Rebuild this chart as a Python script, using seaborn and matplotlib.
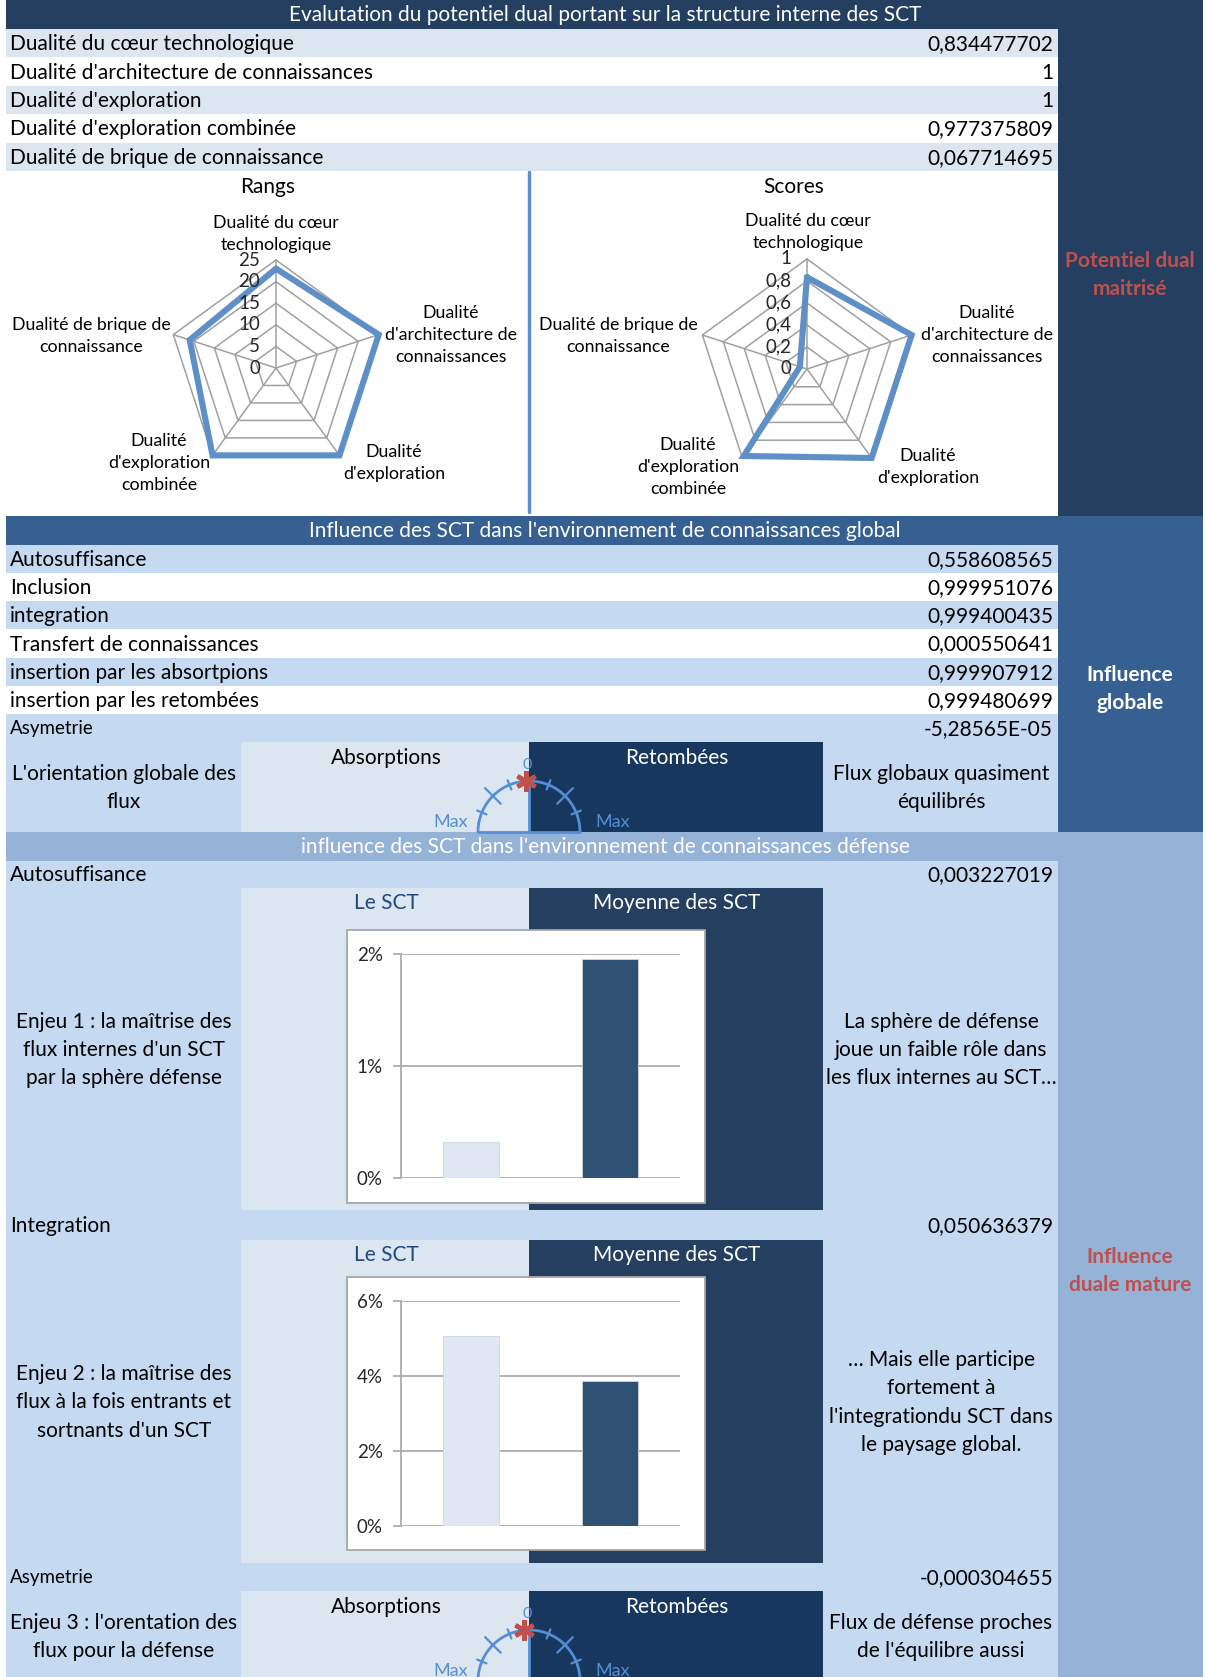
import numpy as np
import pandas as pd
import matplotlib
matplotlib.use("Agg")
import matplotlib.pyplot as plt
import seaborn as sns
from matplotlib.patches import Rectangle

sns.set_theme(style="white")
plt.rcParams['font.family'] = ['Lato', 'DejaVu Sans']

# ---------------- data ----------------
sec1_title = "Evalutation du potentiel dual portant sur la structure interne des SCT"
dual_labels = ["Dualité du cœur technologique", "Dualité d'architecture de connaissances",
               "Dualité d'exploration", "Dualité d'exploration combinée",
               "Dualité de brique de connaissance"]
dual_values_txt = ["0,834477702", "1", "1", "0,977375809", "0,067714695"]
dual_scores = [0.834477702, 1.0, 1.0, 0.977375809, 0.067714695]
dual_ranks = [23, 25, 25, 25, 21]
radar_axis_labels = ["Dualité du cœur\ntechnologique", "Dualité\nd'architecture de\nconnaissances",
                     "Dualité\nd'exploration", "Dualité\nd'exploration\ncombinée",
                     "Dualité de brique de\nconnaissance"]
rank_ticks = [0, 5, 10, 15, 20, 25]
rank_ticklabels = ["0", "5", "10", "15", "20", "25"]
score_ticks = [0, 0.2, 0.4, 0.6, 0.8, 1.0]
score_ticklabels = ["0", "0,2", "0,4", "0,6", "0,8", "1"]

sec2_title = "Influence des SCT dans l'environnement de connaissances global"
glob_labels = ["Autosuffisance", "Inclusion", "integration", "Transfert de connaissances",
               "insertion par les absortpions", "insertion par les retombées", "Asymetrie"]
glob_values_txt = ["0,558608565", "0,999951076", "0,999400435", "0,000550641",
                   "0,999907912", "0,999480699", "-5,28565E-05"]
glob_asym = -5.28565e-05

sec3_title = "influence des SCT dans l'environnement de connaissances défense"
def_labels = ["Autosuffisance", "Integration", "Asymetrie"]
def_values_txt = ["0,003227019", "0,050636379", "-0,000304655"]
def_asym = -0.000304655
bar_categories = ["Le SCT", "Moyenne des SCT"]
bar1_values = [0.3227019, 1.955]   # %
bar2_values = [5.0636379, 3.87]    # %

gauge_sides = ["Absorptions", "Retombées"]
right_col = ["Potentiel dual\nmaitrisé", "Influence\nglobale", "Influence\nduale mature"]
left_texts = ["L'orientation globale des\nflux",
              "Enjeu 1 : la maîtrise des\nflux internes d'un SCT\npar la sphère défense",
              "Enjeu 2 : la maîtrise des\nflux à la fois entrants et\nsortnants d'un SCT",
              "Enjeu 3 : l'orentation des\nflux pour la défense"]
right_texts = ["Flux globaux quasiment\néquilibrés",
               "La sphère de défense\njoue un faible rôle dans\nles flux internes au SCT…",
               "… Mais elle participe\nfortement à\nl'integrationdu SCT dans\nle paysage global.",
               "Flux de défense proches\nde l'équilibre aussi"]

# ---------------- colours ----------------
NAVY = "#243F60"
MID = "#366092"
SKY = "#95B3D7"
LIGHT = "#DCE6F1"
LB = "#C5D9F1"
GDARK = "#17375E"
RED = "#C0504D"
GBLUE = "#558ED5"
RLINE = "#5E90C7"

W, H = 1206, 1677
fig = plt.figure(figsize=(W / 100, H / 100), dpi=100)
fig.patch.set_facecolor("white")
cv = fig.add_axes([0, 0, 1, 1])
cv.set_xlim(0, W)
cv.set_ylim(H, 0)
cv.axis("off")

L, C, R = 6, 1058, 1203
FS = 15


def rect(x0, y0, x1, y1, color, **kw):
    cv.add_patch(Rectangle((x0, y0), x1 - x0, y1 - y0, facecolor=color, edgecolor=kw.get("ec", "none"),
                           lw=kw.get("lw", 0), zorder=kw.get("z", 0)))


def txt(x, y, s, **kw):
    d = dict(fontsize=FS, va="center", ha="left", color="black", linespacing=1.53)
    d.update(kw)
    cv.text(x, y, s, **d)


# ---------- section 1 ----------
rect(L, 0, R, 29, NAVY)
txt(605, 15, sec1_title, ha="center", color="white")
rect(C, 29, R, 516, NAVY)
y = 29
rh = 28.4
for i, (lab, v) in enumerate(zip(dual_labels, dual_values_txt)):
    rect(L, y, C, y + rh, LIGHT if i % 2 == 0 else "white")
    txt(10, y + rh / 2 + 1, lab)
    txt(1053, y + rh / 2 + 1, v, ha="right")
    y += rh
cv.plot([529, 529], [172, 512], color="#5B8FD0", lw=2.5, zorder=2)
txt(1130, 275, right_col[0], ha="center", color=RED, fontweight="bold")


def radar(x0, y0, x1, y1, cx, cy, Rpx, vmax, ticks, ticklabels, values):
    ax = fig.add_axes([x0 / W, 1 - y1 / H, (x1 - x0) / W, (y1 - y0) / H])
    k = vmax / Rpx
    ax.set_xlim((x0 - cx) * k, (x1 - cx) * k)
    ax.set_ylim((cy - y1) * k, (cy - y0) * k)
    ax.axis("off")
    ax.patch.set_alpha(0)
    n = len(values)
    ang = np.pi / 2 - 2 * np.pi * np.arange(n) / n
    ca, sa = np.append(np.cos(ang), np.cos(ang[0])), np.append(np.sin(ang), np.sin(ang[0]))
    for t in ticks[1:]:
        ax.plot(t * ca, t * sa, color="#A0A0A0", lw=1.1)
    for a in ang:
        ax.plot([0, vmax * np.cos(a)], [0, vmax * np.sin(a)], color="#A0A0A0", lw=1.1)
    v = np.append(values, values[0])
    ax.plot(v * ca, v * sa, color=RLINE, lw=4.4, solid_joinstyle="miter")
    for t, l in zip(ticks, ticklabels):
        ax.text(-16 * k, t, l, ha="right", va="center", fontsize=13.5)
    return ax


radar(L, 171, 529, 516, 276, 368, 108, 25, rank_ticks, rank_ticklabels, dual_ranks)
radar(531, 171, C, 516, 807, 369, 110, 1.0, score_ticks, score_ticklabels, dual_scores)

txt(268, 187, "Rangs", ha="center", fontsize=15)
txt(794, 187, "Scores", ha="center", fontsize=15)
pos1 = [(276, 234), (451, 335), (394, 463), (159, 463), (91, 336)]
pos2 = [(808, 232), (987, 335), (928, 467), (688, 467), (618, 336)]
for (px, py), lab in zip(pos1, radar_axis_labels):
    txt(px, py, lab, ha="center", fontsize=12.8, linespacing=1.45)
for (px, py), lab in zip(pos2, radar_axis_labels):
    txt(px, py, lab, ha="center", fontsize=12.8, linespacing=1.45)

# ---------- section 2 ----------
rect(L, 516, R, 545, MID)
txt(605, 531, sec2_title, ha="center", color="white")
rect(C, 545, R, 832, MID)
txt(1130, 689, right_col[1], ha="center", color="white", fontweight="bold")
y = 545
rh = 28.15
for i, (lab, v) in enumerate(zip(glob_labels, glob_values_txt)):
    rect(L, y, C, y + rh, LB if i % 2 == 0 else "white")
    txt(10, y + rh / 2 + 1, lab, fontsize=13.5 if lab == "Asymetrie" else FS)
    txt(1053, y + rh / 2 + 1, v, ha="right")
    y += rh
rect(L, 742, C, 832, LB)


def gauge_panel(y0, y1, asym, gmax, ltxt, rtxt):
    rect(241, y0, 529, y1, LIGHT)
    rect(529, y0, 823, y1, GDARK)
    txt(386, y0 + 16, gauge_sides[0], ha="center")
    txt(677, y0 + 16, gauge_sides[1], ha="center", color="white")
    txt(124, y0 + 46, ltxt, ha="center")
    txt(941, y0 + 46, rtxt, ha="center")
    cx, cy, Rg = 529, y0 + 90, 51
    th = np.linspace(0, np.pi, 120)
    cv.plot(cx + Rg * np.cos(th), cy - Rg * np.sin(th), color=GBLUE, lw=2, zorder=3)
    cv.plot([cx - Rg, cx + Rg], [cy, cy], color=GBLUE, lw=2, zorder=3)
    cv.plot([cx, cx], [cy, cy - Rg], color=GBLUE, lw=2, zorder=3)
    for deg, tl in [(22.5, 5), (45, 11), (67.5, 5), (112.5, 5), (135, 11), (157.5, 5)]:
        a = np.radians(deg)
        cv.plot([cx + (Rg - tl) * np.cos(a), cx + (Rg + tl) * np.cos(a)],
                [cy - (Rg - tl) * np.sin(a), cy - (Rg + tl) * np.sin(a)], color=GBLUE, lw=1.6, zorder=3)
    txt(cx - 2, cy - Rg - 16, "0", ha="center", color=GBLUE, fontsize=11.5)
    txt(451, cy - 10, "Max", ha="center", color=GBLUE, fontsize=13)
    txt(613, cy - 10, "Max", ha="center", color=GBLUE, fontsize=13)
    a = np.pi / 2 - (asym / gmax) * np.pi / 2
    cv.plot([cx + Rg * np.cos(a) - 3], [cy - Rg * np.sin(a)], marker=(6, 2, 0), ms=15, mew=3.2,
            color=RED, zorder=4)


gauge_panel(742, 832, glob_asym, 0.01, left_texts[0], right_texts[0])

# ---------- section 3 ----------
rect(L, 832, R, 861, SKY)
txt(605, 847, sec3_title, ha="center", color="white")
rect(C, 861, R, H, SKY)
txt(1130, 1271, right_col[2], ha="center", color=RED, fontweight="bold")
rect(L, 861, C, H, LB)
txt(10, 875, def_labels[0])
txt(1053, 875, def_values_txt[0], ha="right")
txt(10, 1226, def_labels[1])
txt(1053, 1226, def_values_txt[1], ha="right")
txt(10, 1578, def_labels[2], fontsize=13.5)
txt(1053, 1578, def_values_txt[2], ha="right")


def bar_panel(y0, y1, box_top, box_bot, ax_top, ax_bot, values, ymax, step, ltxt, rtxt):
    rect(241, y0, 529, y1, LIGHT)
    rect(529, y0, 823, y1, NAVY)
    txt(386, y0 + 15, bar_categories[0], ha="center", color="#1F497D")
    txt(677, y0 + 15, bar_categories[1], ha="center", color="white")
    rect(347, box_top, 705, box_bot, "white", ec="#A6A6A6", lw=1.3, z=1)
    txt(124, (y0 + y1) / 2 + 1, ltxt, ha="center")
    txt(941, (y0 + y1) / 2 + 1, rtxt, ha="center")
    ax = fig.add_axes([401 / W, 1 - ax_bot / H, (680 - 401) / W, (ax_bot - ax_top) / H])
    df = pd.DataFrame({"cat": bar_categories, "val": values})
    sns.barplot(data=df, x="cat", y="val", hue="cat", palette=["#DFE8F2", "#2E5174"],
                width=0.4, saturation=1, legend=False, ax=ax, edgecolor="#D0D6DE", linewidth=0.6)
    ax.set_xlim(-0.5, 1.5)
    ax.set_ylim(0, ymax)
    ticks = np.arange(0, ymax + 1e-9, step)
    ax.set_yticks(ticks)
    ax.set_yticklabels([f"{int(round(t))}%" for t in ticks])
    ax.set_xticks([])
    ax.set_xlabel("")
    ax.set_ylabel("")
    ax.patch.set_alpha(0)
    ax.grid(axis="y", color="#A6A6A6", lw=1.2)
    ax.set_axisbelow(True)
    for s in ["top", "right", "bottom"]:
        ax.spines[s].set_visible(False)
    ax.spines["left"].set_color("#A6A6A6")
    ax.spines["left"].set_linewidth(1.2)
    ax.tick_params(axis="y", left=True, length=6, width=1.2, color="#A6A6A6", labelsize=13.5, pad=7)


bar_panel(888, 1210, 930, 1203, 954, 1178, bar1_values, 2, 1, left_texts[1], right_texts[1])
bar_panel(1240, 1563, 1277, 1550, 1301, 1526, bar2_values, 6, 2, left_texts[2], right_texts[2])

gauge_panel(1591, 1681, def_asym, 0.01, left_texts[3], right_texts[3])

fig.savefig("out.png", dpi=100, facecolor="white")
